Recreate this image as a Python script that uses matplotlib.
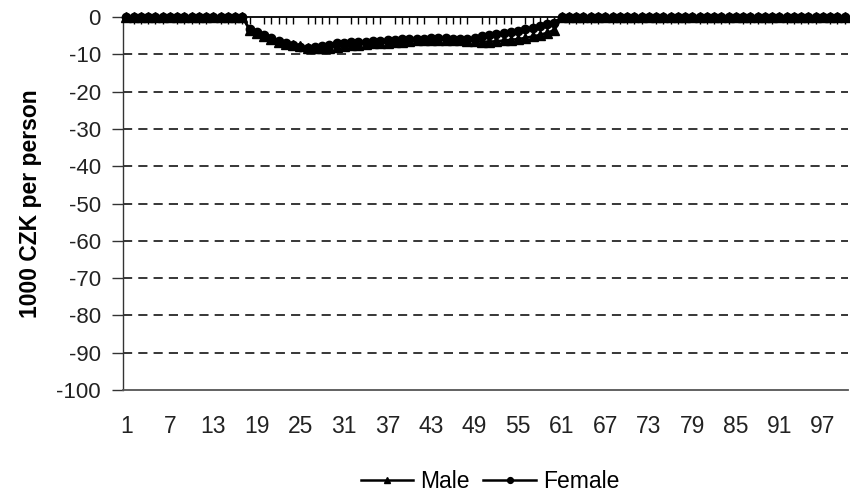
import matplotlib
matplotlib.use("Agg")
import matplotlib.pyplot as plt
import numpy as np

ages = list(range(1, 101))
male_working = [-3.5, -4.3, -5.1, -5.9, -6.6, -7.2, -7.6, -7.9, -8.2, -8.3, -8.3, -8.2, -8.0,
                -7.8, -7.6, -7.4, -7.2, -7.1, -7.0, -6.9, -6.8, -6.6, -6.4, -6.3, -6.2, -6.1,
                -6.1, -6.1, -6.2, -6.3, -6.4, -6.5, -6.6, -6.6, -6.5, -6.3, -6.1, -5.9, -5.6,
                -5.2, -4.8, -4.2, -3.5]
female_working = [-3.2, -4.0, -4.8, -5.6, -6.4, -7.0, -7.6, -8.0, -8.2, -8.0, -7.7, -7.4, -7.1,
                  -6.9, -6.8, -6.7, -6.6, -6.5, -6.4, -6.3, -6.2, -6.0, -5.9, -5.8, -5.8, -5.7,
                  -5.7, -5.7, -5.8, -5.8, -5.8, -5.6, -5.0, -4.8, -4.6, -4.3, -4.0, -3.7, -3.3,
                  -2.9, -2.5, -2.0, -1.5]
male = [0.0] * 17 + male_working + [0.0] * 40
female = [0.0] * 17 + female_working + [0.0] * 40
xtick_labels = [str(a) for a in range(1, 101, 6)]
yticks = list(range(-100, 1, 10))

plt.rcParams['font.family'] = ['Liberation Sans', 'DejaVu Sans']

fig = plt.figure(figsize=(8.5, 4.93), dpi=100)
ax = fig.add_axes([123/850, 1 - 390/493, (848-123)/850, (390-17)/493])

ax.plot(ages, male, color='black', lw=1.8, marker='^', ms=6.5, label='Male', zorder=3, clip_on=False)
ax.plot(ages, female, color='black', lw=1.8, marker='o', ms=6, label='Female', zorder=3, clip_on=False)

ax.set_ylim(-100, 0)
ax.set_xlim(0.55, 100.45)
ax.set_yticks(yticks)
ax.set_yticklabels([str(v) for v in yticks], fontsize=16, color='#222222')
for v in yticks[1:-1]:
    ax.axhline(v, color='black', lw=1.1, ls=(0, (6, 4)), zorder=1)

# x labels at bottom, category ticks at top (the zero line)
ax.set_xticks([int(l) for l in xtick_labels])
ax.set_xticklabels(xtick_labels, fontsize=16.5, color='#222222')
ax.tick_params(axis='x', which='major', bottom=True, length=0, pad=18)
ax.set_xticks(ages, minor=True)
ax.tick_params(axis='x', which='minor', top=True, bottom=False, direction='in', length=5, width=1, color='black')
ax.tick_params(axis='x', which='major', top=False)
ax.tick_params(axis='y', direction='out', length=8, width=1, pad=8, color='#333333')

ax.spines['right'].set_visible(False)
ax.spines['top'].set_color('black')
ax.spines['top'].set_linewidth(1.3)
ax.spines['bottom'].set_color('#555555')
ax.spines['bottom'].set_linewidth(1.3)
ax.spines['left'].set_color('#333333')
ax.spines['left'].set_linewidth(1.0)

ax.set_ylabel('1000 CZK per person', fontsize=16.5, fontweight='bold', labelpad=10)

leg = fig.legend(loc='center', bbox_to_anchor=(490/850, 1 - 482/493), ncol=2, frameon=False,
                 fontsize=16.5, handlelength=2.3, handletextpad=0.3, columnspacing=0.6,
                 markerscale=0.7)

fig.savefig('out.png', dpi=100)
